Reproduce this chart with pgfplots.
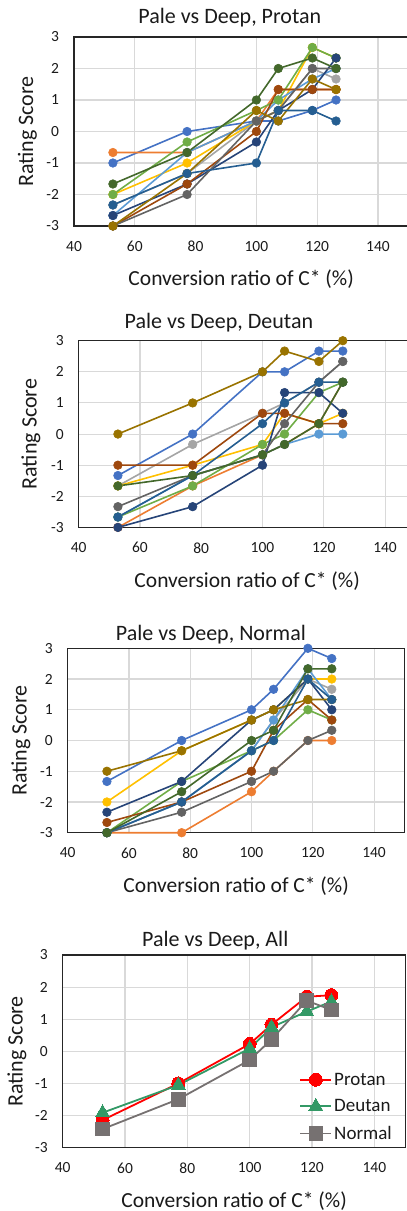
\documentclass[border=0pt]{standalone}
\usepackage{fontspec}
\setmainfont{Carlito}
\usepackage{pgfplots}
\usepackage{pgfplotstable}
\pgfplotsset{compat=1.18}
\definecolor{c1}{HTML}{4472C4}
\definecolor{c2}{HTML}{ED7D31}
\definecolor{c3}{HTML}{A5A5A5}
\definecolor{c4}{HTML}{FFC000}
\definecolor{c5}{HTML}{5B9BD5}
\definecolor{c6}{HTML}{70AD47}
\definecolor{c7}{HTML}{264478}
\definecolor{c8}{HTML}{9E480E}
\definecolor{c9}{HTML}{636363}
\definecolor{c10}{HTML}{997300}
\definecolor{c11}{HTML}{255E91}
\definecolor{c12}{HTML}{43682B}
\definecolor{gridc}{HTML}{D9D9D9}
\definecolor{axc}{HTML}{262626}
\definecolor{txt}{HTML}{1A1A1A}
\definecolor{protc}{HTML}{FF0000}
\definecolor{deutc}{HTML}{339966}
\definecolor{normc}{HTML}{767171}

\pgfplotstableread{
x s1 s2 s3 s4 s5 s6 s7 s8 s9 s10 s11 s12
52.8 -1 -0.667 -2.333 -2 -2.667 -2 -2.667 -3 -3 -3 -2.333 -1.667
77.2 0 -0.667 -1.333 -1 -0.667 -0.333 -1.667 -1.667 -2 -1.333 -1.333 -0.667
100 0.333 0.333 0.333 0.333 0.333 0.667 -0.333 0 0.333 0.667 -1 1
107.2 0.333 1.333 0.667 0.667 1 1 0.667 1.333 0.667 0.333 0.667 2
118.4 0.667 1.333 2 2.667 1.667 2.667 1.333 1.333 2 1.667 0.667 2.333
126.2 1 1.333 1.667 2.333 2 2.333 2.333 1.333 2 1.333 0.333 2
}\protan

\pgfplotstableread{
x s1 s2 s3 s4 s5 s6 s7 s8 s9 s10 s11 s12
52.8 -1.333 -3 -1.667 -1.667 -2.667 -2.667 -3 -1 -2.333 0 -2.667 -1.667
77.2 0 -1.667 -0.333 -1 -1.333 -1.667 -2.333 -1 -1.333 1 -1.333 -1.333
100 2 -0.667 0.667 -0.333 -0.667 -0.333 -1 0.667 -0.667 2 0.333 -0.667
107.2 2 -0.333 1 0.667 -0.333 0 1.333 0.667 0.333 2.667 1 -0.333
118.4 2.667 0.333 1.667 0.333 0 1.333 1.333 0.333 1.667 2.333 1.667 0.333
126.2 2.667 1.667 2.333 0.667 0 1.667 0.667 0.333 2.333 3 1.667 1.667
}\deutan

\pgfplotstableread{
x s1 s2 s3 s4 s5 s6 s7 s8 s9 s10 s11 s12
52.8 -1.333 -3 -3 -2 -3 -3 -2.333 -2.667 -3 -1 -3 -3
77.2 0 -3 -2 -0.333 -2 -1.333 -1.333 -2 -2.333 -0.333 -2 -1.667
100 1 -1.667 -0.333 0.667 -0.333 -0.333 0.667 -1 -1.333 0.667 -0.333 0
107.2 1.667 -1 0.667 1 0.667 0 1 0.333 -1 1 0 0.333
118.4 3 0 2 2 2.333 1 2 1.333 0 1.333 2 2.333
126.2 2.667 0 1.667 2 1.333 0.667 1 0.667 0.333 1.333 1.333 2.333
}\normal

\pgfplotstableread{
x prot deut norm
52.8 -2.14 -1.91 -2.42
77.1 -1.0 -1.05 -1.49
100 0.23 0.09 -0.27
107 0.83 0.75 0.37
118.3 1.70 1.24 1.58
126.2 1.75 1.55 1.29
}\allgrp

\pgfplotsset{
  panel/.style={
    scale only axis, anchor=north west,
    xmin=40, xmax=150, ymin=-3, ymax=3,
    xtick={40,60,80,100,120,140}, ytick={-3,-2,-1,0,1,2,3},
    grid=major, major grid style={draw=gridc, line width=1.1pt},
    major tick length=0pt,
    axis line style={draw=axc, line width=1.5pt},
    clip=false,
    ticklabel style={font=\fontsize{15.5}{18}\selectfont, text=txt},
    xticklabel style={yshift=-11.5pt},
    yticklabel style={xshift=-11.5pt},
    /pgf/number format/assume math mode=true,
    xlabel={Conversion ratio of C* (\%)}, ylabel={Rating Score},
    every axis x label/.style={at={(axis description cs:0.5,0)}, anchor=base, yshift=-60pt, font=\fontsize{21.5}{24}\selectfont, text=txt},
  },
  ser/.style={color=#1, line width=1.6pt, mark=*, mark size=4.3pt, mark options={fill=#1, draw=#1, line width=0.6pt}},
  ylab/.style={every axis y label/.style={at={(axis description cs:#1,0.5)}, rotate=90, anchor=base, font=\fontsize{22}{24}\selectfont, text=txt}},
  ttl/.style 2 args={every axis title/.style={at={(axis description cs:#1,1)}, anchor=base, yshift=#2, font=\fontsize{22}{24}\selectfont, text=txt}},
}

\begin{document}
\begin{tikzpicture}
\begin{axis}[panel, at={(74pt,-37pt)}, width=334.4pt, height=189pt,
  title={Pale vs Deep, Protan}, ttl={0.466}{13.7pt}, ylab={-0.1226}]
\pgfplotsinvokeforeach{1,...,12}{\addplot[ser=c#1] table[x=x, y=s#1]{\protan};}
\end{axis}
\begin{axis}[panel, at={(78.7pt,-340.7pt)}, width=337pt, height=186.7pt,
  title={Pale vs Deep, Deutan}, ttl={0.416}{12.4pt}, ylab={-0.1246}]
\pgfplotsinvokeforeach{1,...,12}{\addplot[ser=c#1] table[x=x, y=s#1]{\deutan};}
\end{axis}
\begin{axis}[panel, at={(67.7pt,-648.3pt)}, width=337pt, height=184.4pt,
  title={Pale vs Deep, Normal}, ttl={0.425}{8.3pt}, ylab={-0.1217}]
\pgfplotsinvokeforeach{1,...,12}{\addplot[ser=c#1] table[x=x, y=s#1]{\normal};}
\end{axis}
\begin{axis}[panel, at={(62.7pt,-955pt)}, width=342.8pt, height=192.7pt,
  title={Pale vs Deep, All}, ttl={0.445}{8.3pt}, ylab={-0.1167},
  legend style={at={(axis description cs:0.69,0.40)}, anchor=north west, draw=none, fill=none,
    font=\fontsize{19}{22}\selectfont, text=txt, row sep=9pt, inner sep=0pt,
    nodes={inner sep=2pt}},
  legend cell align=left,
  legend image code/.code={\draw[mark repeat=2, mark phase=2] plot coordinates {(0pt,0pt) (15.5pt,0pt) (31pt,0pt)};}]
\addplot[color=protc, line width=1.8pt, mark=*, mark size=6.5pt, mark options={fill=protc, draw=protc, line width=0pt}] table[x=x, y=prot]{\allgrp};
\addlegendentry{Protan}
\addplot[color=deutc, line width=1.8pt, mark=triangle*, mark size=8pt, mark options={fill=deutc, draw=deutc, line width=0pt}] table[x=x, y=deut]{\allgrp};
\addlegendentry{Deutan}
\addplot[color=normc, line width=1.8pt, mark=square*, mark size=6.8pt, mark options={fill=normc, draw=normc, line width=0pt}] table[x=x, y=norm]{\allgrp};
\addlegendentry{Normal}
\end{axis}
\pgfresetboundingbox
\path[use as bounding box] (0pt,0pt) rectangle (407pt,-1211pt);
\end{tikzpicture}
\end{document}
